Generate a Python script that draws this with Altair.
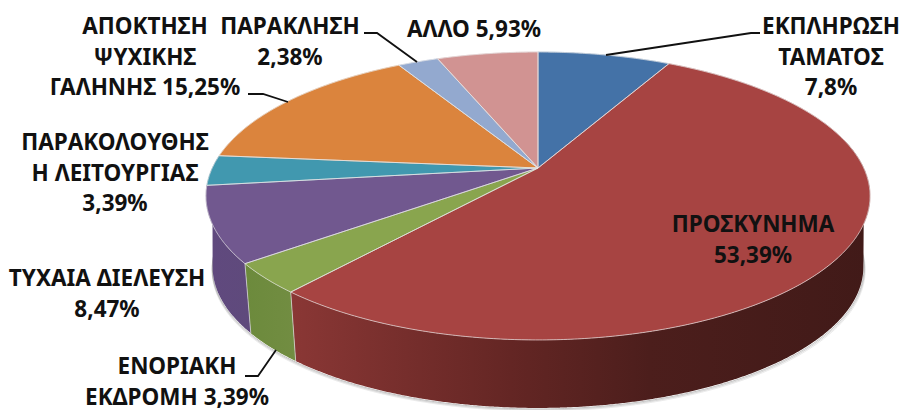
import altair as alt
import numpy as np
import pandas as pd

# ---- chart values ----
names = ["ΕΚΠΛΗΡΩΣΗ ΤΑΜΑΤΟΣ", "ΠΡΟΣΚΥΝΗΜΑ", "ΕΝΟΡΙΑΚΗ ΕΚΔΡΟΜΗ", "ΤΥΧΑΙΑ ΔΙΕΛΕΥΣΗ",
         "ΠΑΡΑΚΟΛΟΥΘΗΣΗ ΛΕΙΤΟΥΡΓΙΑΣ", "ΑΠΟΚΤΗΣΗ ΨΥΧΙΚΗΣ ΓΑΛΗΝΗΣ", "ΠΑΡΑΚΛΗΣΗ", "ΑΛΛΟ"]
shares = [7.8, 53.39, 3.39, 8.47, 3.39, 15.25, 2.38, 5.93]
colors = ["#4472a7", "#a74442", "#89a54e", "#71588f", "#4198af", "#db843d", "#93a9cf", "#d19392"]

label_lines = [
    ["ΕΚΠΛΗΡΩΣΗ", "ΤΑΜΑΤΟΣ", "7,8%"],
    ["ΠΡΟΣΚΥΝΗΜΑ", "53,39%"],
    ["ΕΝΟΡΙΑΚΗ", "ΕΚΔΡΟΜΗ 3,39%"],
    ["ΤΥΧΑΙΑ ΔΙΕΛΕΥΣΗ", "8,47%"],
    ["ΠΑΡΑΚΟΛΟΥΘΗΣ", "Η ΛΕΙΤΟΥΡΓΙΑΣ", "3,39%"],
    ["ΑΠΟΚΤΗΣΗ", "ΨΥΧΙΚΗΣ", "ΓΑΛΗΝΗΣ 15,25%"],
    ["ΠΑΡΑΚΛΗΣΗ", "2,38%"],
    ["ΑΛΛΟ 5,93%"],
]
label_cx = [823, 745, 169, 99, 107, 137, 282, 466]
label_y = [19, 217, 359, 271, 135, 19, 19, 22]

leaders = [
    [(598, 47), (743, 25), (752, 25)],
    [(240, 86), (255, 86), (280, 94)],
    [(356, 25), (369, 25), (409, 54)],
    [(237, 368), (250, 368), (268, 342)],
]

# ---- pie geometry, in plot pixels ----
W, H = 893, 402
CX, APEX_Y, MID_Y = 530, 160, 188
A, B, K = 325.7, 138.5, 0.1944
SHRINK, DROP = 0.98, 70.9


def top_rim(deg):
    t = np.radians(np.asarray(deg, dtype=float))
    u, v = np.sin(t), np.cos(t)
    w = 1 + K * v
    return CX + A * u / w, APEX_Y - B * v / w


def low_rim(deg):
    x, y = top_rim(deg)
    return CX + (x - CX) * SHRINK, MID_Y + (y - MID_Y) * SHRINK + DROP


def scan(px, py):
    """Vertical sections (x, y, y2) of a polygon monotone in x."""
    px, py = np.asarray(px), np.asarray(py)
    qx, qy = np.roll(px, -1), np.roll(py, -1)
    rows = []
    for x in np.unique(np.round(px, 2)):
        hits = []
        for a, b, c, d in zip(px, py, qx, qy):
            lo, hi = min(a, c), max(a, c)
            if lo - 0.01 <= x <= hi + 0.01:
                if abs(c - a) < 0.02:
                    hits += [b, d]
                else:
                    hits.append(b + (d - b) * (min(max(x, lo), hi) - a) / (c - a))
        rows.append((float(x), float(min(hits)), float(max(hits))))
    return rows


def arc(a0, a1):
    return np.linspace(a0, a1, int(abs(a1 - a0) * 2) + 2)


edges = np.concatenate([[0], np.cumsum(shares)]) * 3.6

# top faces and their outlines
top_rows, outline_rows = [], []
for i, (c, a0, a1) in enumerate(zip(colors, edges[:-1], edges[1:])):
    ax, ay = top_rim(arc(a0, a1))
    px = np.concatenate([[CX], ax])
    py = np.concatenate([[APEX_Y], ay])
    for x, y, y2 in scan(px, py):
        top_rows.append(dict(s=i, c=c, x=x, y=y, y2=y2))
    for n, (x, y) in enumerate(zip(np.append(px, CX), np.append(py, APEX_Y))):
        outline_rows.append(dict(s=i, n=n, x=float(x), y=float(y)))


def wall_rows(a0, a1):
    ta = top_rim(arc(a0, a1))
    la = low_rim(arc(a1, a0))
    return pd.DataFrame(
        [dict(x=x, y=y, y2=y2) for x, y, y2 in
         scan(np.concatenate([ta[0], la[0]]), np.concatenate([ta[1], la[1]]))])


b_red, b_green, b_purple = edges[2], edges[3], 275

# wall dividers
divider_rows = []
for k, a in enumerate([b_red, b_green]):
    x0, y0 = top_rim(a)
    x1, y1 = low_rim(a)
    divider_rows += [dict(s=k, n=0, x=float(x0), y=float(y0)), dict(s=k, n=1, x=float(x1), y=float(y1))]

# soft shadow under the lower rim
shadow_rows = []
sx, sy = low_rim(arc(88, 272))
for k, (off, op) in enumerate([(1.0, 0.45), (2.0, 0.3), (3.0, 0.15)]):
    for n, (x, y) in enumerate(zip(sx, sy)):
        shadow_rows.append(dict(s=k, n=n, x=float(x + (0.6 * off if x > CX else -0.2 * off)),
                                y=float(y + off), o=op))

leader_rows = [dict(s=i, n=n, x=x, y=y) for i, pts in enumerate(leaders) for n, (x, y) in enumerate(pts)]
text_rows = [dict(t=l, x=x, y=y) for l, x, y in zip(label_lines, label_cx, label_y)]

X = alt.X("x:Q", scale=alt.Scale(domain=[0, W], nice=False, zero=False), axis=None)
Y = alt.Y("y:Q", scale=alt.Scale(domain=[H, 0], nice=False, zero=False), axis=None)
Y2 = alt.Y2("y2:Q")


def gradient(stops):
    return alt.LinearGradient(
        gradient="linear", x1=0, x2=1, y1=0, y2=0,
        stops=[alt.GradientStop(offset=o, color=c) for o, c in stops])


def wall(a0, a1, stops):
    return alt.Chart(wall_rows(a0, a1)).mark_area(
        orient="vertical", fill=gradient(stops), stroke=None
    ).encode(x=X, y=Y, y2=Y2)


shadow = alt.Chart(pd.DataFrame(shadow_rows)).mark_line(color="#777777", strokeWidth=1).encode(
    x=X, y=Y, order="n:Q", detail="s:N", opacity=alt.Opacity("o:Q", scale=None))

walls = [
    wall(78, b_red, [(0, "#8a3735"), (0.2, "#762e2c"), (0.38, "#642624"),
                     (0.62, "#4c1e1c"), (1, "#411a18")]),
    wall(b_red, b_green, [(0, "#6c8a3c"), (1, "#728d42")]),
    wall(b_green, b_purple, [(0, "#60497e"), (1, "#5f4a7c")]),
]

tops = alt.Chart(pd.DataFrame(top_rows)).mark_area(orient="vertical", strokeWidth=0.5).encode(
    x=X, y=Y, y2=Y2, detail="s:N",
    fill=alt.Fill("c:N", scale=None), stroke=alt.Stroke("c:N", scale=None))

outlines = alt.Chart(pd.DataFrame(outline_rows)).mark_line(
    color="#e6e6e6", strokeWidth=0.9, opacity=0.75
).encode(x=X, y=Y, order="n:Q", detail="s:N")

dividers = alt.Chart(pd.DataFrame(divider_rows)).mark_line(
    color="#d8d8d8", strokeWidth=0.9, opacity=0.8
).encode(x=X, y=Y, order="n:Q", detail="s:N")

leader_lines = alt.Chart(pd.DataFrame(leader_rows)).mark_line(
    color="#111111", strokeWidth=1.8
).encode(x=X, y=Y, order="n:Q", detail="s:N")

texts = alt.Chart(pd.DataFrame(text_rows)).mark_text(
    font="Noto Sans", fontSize=22.5, fontWeight=700, color="#111111",
    align="center", baseline="middle", lineHeight=30.5
).encode(x=X, y=Y, text="t:N")

chart = alt.layer(shadow, *walls, tops, outlines, dividers, leader_lines, texts).properties(
    width=W, height=H, padding=0, autosize=alt.AutoSizeParams(type="none"), background="white"
).configure_view(strokeWidth=0)

chart.save("out.html", embed_options={"renderer": "svg", "actions": False})
